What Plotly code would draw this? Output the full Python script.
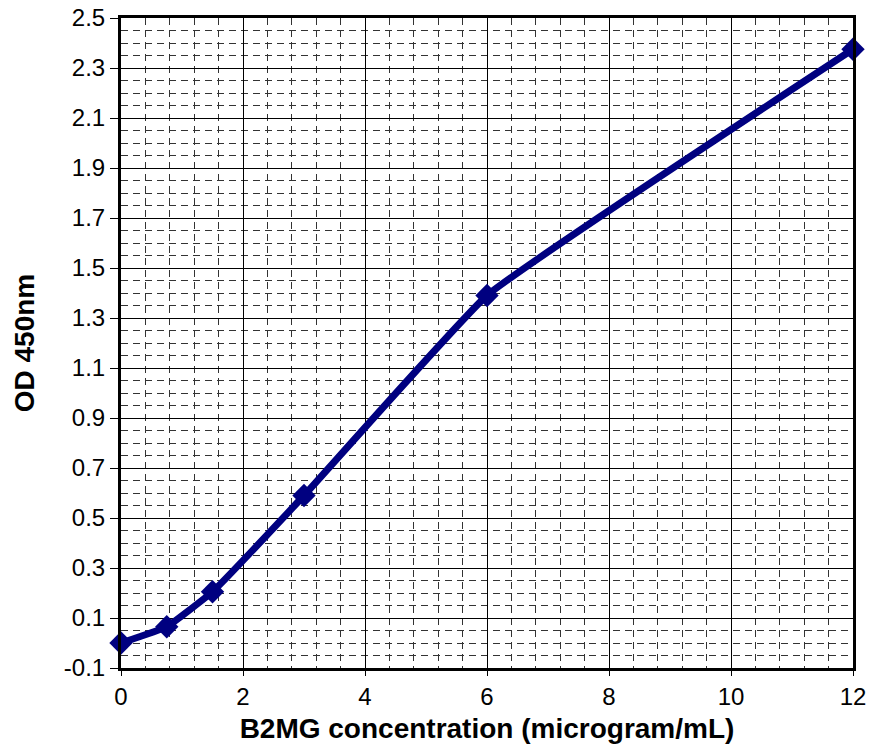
import plotly.graph_objects as go

conc = [0, 0.75, 1.5, 3, 6, 12]
od = [0.0, 0.065, 0.205, 0.59, 1.39, 2.375]

y_ticks = [-0.1, 0.1, 0.3, 0.5, 0.7, 0.9, 1.1, 1.3, 1.5, 1.7, 1.9, 2.1, 2.3, 2.5]
y_labels = ["-0.1", "0.1", "0.3", "0.5", "0.7", "0.9", "1.1", "1.3", "1.5", "1.7", "1.9", "2.1", "2.3", "2.5"]
x_ticks = [0, 2, 4, 6, 8, 10, 12]
x_labels = ["0", "2", "4", "6", "8", "10", "12"]

fig = go.Figure()
fig.add_trace(go.Scatter(
    x=conc, y=od, mode="lines+markers",
    line=dict(color="#000080", width=7, shape="spline", smoothing=0.3),
    marker=dict(symbol="diamond", size=18, color="#000080"),
    showlegend=False, cliponaxis=False,
))

fig.update_layout(
    width=869, height=747,
    margin=dict(l=121, r=16, t=18, b=79),
    paper_bgcolor="white", plot_bgcolor="white",
    font=dict(family="Liberation Sans, Arial, sans-serif", size=24, color="black"),
    xaxis=dict(
        range=[0, 12], tickvals=x_ticks, ticktext=x_labels,
        showgrid=True, gridcolor="black", gridwidth=1,
        showline=True, linecolor="black", linewidth=3, mirror=True,
        ticks="outside", ticklen=5, tickcolor="black",
        zeroline=False, automargin=False,
        minor=dict(dtick=0.4, tick0=0, showgrid=True, gridcolor="#333", gridwidth=1, griddash="7px,5px"),
        title=dict(text="<b>B2MG concentration (microgram/mL)</b>", font=dict(size=28), standoff=10),
    ),
    yaxis=dict(
        range=[-0.1, 2.5], tickvals=y_ticks, ticktext=y_labels,
        showgrid=True, gridcolor="black", gridwidth=1,
        showline=True, linecolor="black", linewidth=3, mirror=True,
        ticks="outside", ticklen=8, tickcolor="black",
        zeroline=False, automargin=False,
        minor=dict(dtick=0.05, tick0=-0.1, showgrid=True, gridcolor="#333", gridwidth=1, griddash="7px,5px"),
        title=dict(text="<b>OD 450nm</b>", font=dict(size=28), standoff=22),
    ),
)

fig.write_html("out.html", config={"displayModeBar": False},
               post_script="document.body.style.margin='0';")
